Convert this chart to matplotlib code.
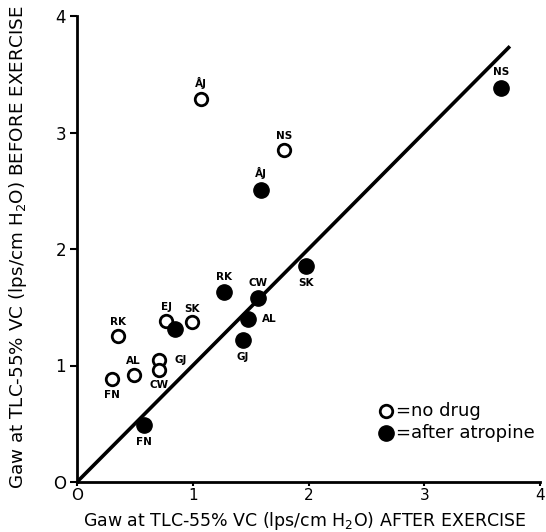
import matplotlib
matplotlib.use("Agg")
import matplotlib.pyplot as plt

plt.rcParams['font.family'] = ['DejaVu Sans']

# No drug (open circles)
nodrug_labels = ["ÅJ", "NS", "RK", "EJ", "SK", "GJ", "CW", "AL", "FN"]
nodrug_x = [1.07, 1.79, 0.355, 0.77, 0.995, 0.71, 0.71, 0.49, 0.30]
nodrug_y = [3.29, 2.85, 1.25, 1.38, 1.37, 1.05, 0.96, 0.92, 0.88]

# After atropine (filled circles)
atropine_labels = ["ÅJ", "NS", "RK", "CW", "AL", "GJ", "", "FN", "SK"]
atropine_x = [1.59, 3.66, 1.27, 1.56, 1.48, 1.43, 0.85, 0.58, 1.98]
atropine_y = [2.51, 3.38, 1.63, 1.58, 1.40, 1.22, 1.31, 0.49, 1.85]

identity = [0, 3.74]

ticks = [0, 1, 2, 3, 4]
tick_labels = ["O", "1", "2", "3", "4"]

# label offsets (points) for each point label
nodrug_off = [(0, 11), (0, 10), (0, 10), (0, 10), (0, 10), (11, 0), (0, -11), (0, 10), (0, -11)]
nodrug_ha = ["center", "center", "center", "center", "center", "left", "center", "center", "center"]
atropine_off = [(0, 12), (0, 12), (0, 11), (0, 11), (10, 0), (0, -12), (0, 0), (0, -12), (0, -12)]
atropine_ha = ["center", "center", "center", "center", "left", "center", "center", "center", "center"]

fig = plt.figure(figsize=(5.46, 5.32), dpi=100)
ax = fig.add_axes([77/546, 1-482/532, 463/546, 466/532])

ax.plot(identity, identity, color="black", lw=2.6, solid_capstyle="butt", zorder=1)

ax.plot(nodrug_x, nodrug_y, "o", ms=9, mfc="white", mec="black", mew=2.0, ls="none", zorder=3)
ax.plot(atropine_x, atropine_y, "o", ms=11, mfc="black", mec="black", ls="none", zorder=3)

for lab, x, y, off, ha in zip(nodrug_labels, nodrug_x, nodrug_y, nodrug_off, nodrug_ha):
    if lab:
        ax.annotate(lab, (x, y), xytext=off, textcoords="offset points",
                    ha=ha, va="center", fontsize=7.5, fontweight="bold")
for lab, x, y, off, ha in zip(atropine_labels, atropine_x, atropine_y, atropine_off, atropine_ha):
    if lab:
        ax.annotate(lab, (x, y), xytext=off, textcoords="offset points",
                    ha=ha, va="center", fontsize=7.5, fontweight="bold")

ax.set_xlim(0, 4)
ax.set_ylim(0, 4)
ax.set_xticks(ticks)
ax.set_yticks(ticks)
ax.set_xticklabels(tick_labels, fontsize=11)
ax.set_yticklabels(tick_labels, fontsize=12)
ax.spines["top"].set_visible(False)
ax.spines["right"].set_visible(False)
ax.spines["left"].set_linewidth(2)
ax.spines["bottom"].set_linewidth(2)
ax.tick_params(direction="out", length=5, width=1.5, pad=3)
ax.tick_params(axis="x", length=3, pad=1)

ax.set_xlabel("Gaw at TLC-55% VC (lps/cm H$_2$O) AFTER EXERCISE", fontsize=12.5, va="center")
ax.set_ylabel("Gaw at TLC-55% VC (lps/cm H$_2$O) BEFORE EXERCISE", fontsize=13.2, va="center")
ax.xaxis.set_label_coords(0.492, -0.083)
ax.yaxis.set_label_coords(-0.128, 0.504)

# legend as in the original
ax.plot([2.67], [0.61], "o", ms=9, mfc="white", mec="black", mew=2.0, clip_on=False)
ax.text(2.755, 0.61, "=no drug", fontsize=13, va="center", ha="left")
ax.plot([2.67], [0.42], "o", ms=11, mfc="black", mec="black", clip_on=False)
ax.text(2.755, 0.42, "=after atropine", fontsize=13, va="center", ha="left")

fig.savefig("out.png", dpi=100)
